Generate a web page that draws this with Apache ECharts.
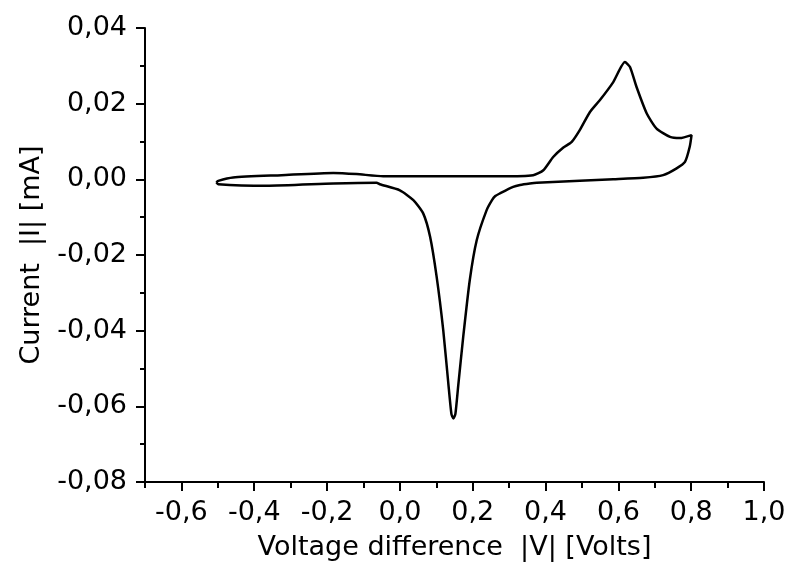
<!DOCTYPE html>
<html>
<head>
<meta charset="utf-8">
<script src="https://cdn.jsdelivr.net/npm/echarts@6/dist/echarts.min.js"></script>
<style>
  html, body { margin: 0; padding: 0; background: #fff; }
  #chart { width: 791px; height: 581px; }
</style>
</head>
<body>
<div id="chart"></div>
<script>
// Cyclic voltammogram (volts, mA), traced as one closed loop
const voltage = [
  -0.504, -0.499, -0.458, -0.325, -0.183, -0.119, -0.046, 0.138, 0.280, 0.366,
  0.394, 0.421, 0.449, 0.472, 0.494, 0.522, 0.549, 0.586, 0.618, 0.632,
  0.650, 0.678, 0.705, 0.742, 0.769, 0.801, 0.796, 0.783, 0.760, 0.723,
  0.668, 0.586, 0.494, 0.376, 0.357, 0.330, 0.311, 0.275, 0.262, 0.253, 0.238,
  0.211, 0.192, 0.174, 0.160, 0.1525, 0.147, 0.1415, 0.133, 0.119, 0.101, 0.083, 0.064,
  0.037, 0.000, -0.055, -0.064, -0.183, -0.366, -0.499, -0.504
];
const current = [
  -0.0008, -0.0004, 0.0005, 0.0011, 0.0017, 0.0014, 0.0008, 0.0008, 0.0008, 0.0011,
  0.0024, 0.0059, 0.0084, 0.0099, 0.0130, 0.0178, 0.0209, 0.0257, 0.0310, 0.0297,
  0.0244, 0.0174, 0.0134, 0.0112, 0.0109, 0.0117, 0.0086, 0.0046, 0.0029, 0.0011,
  0.0004, 0.0000, -0.0004, -0.0009, -0.0011, -0.0015, -0.0020, -0.0037, -0.0044, -0.0055, -0.0082,
  -0.0161, -0.0266, -0.0416, -0.0548, -0.0620, -0.0632, -0.0620, -0.0539, -0.0398, -0.0258, -0.0152, -0.0090,
  -0.0055, -0.0029, -0.0013, -0.0009, -0.0011, -0.0017, -0.0013, -0.0008
];

const xMajorTicks = [-0.6, -0.4, -0.2, 0.0, 0.2, 0.4, 0.6, 0.8, 1.0];
const xMinorTicks = [-0.7, -0.5, -0.3, -0.1, 0.1, 0.3, 0.5, 0.7, 0.9];

const FONT = '"DejaVu Sans", sans-serif';
const points = voltage.map((v, i) => [v, current[i]]);

const chart = echarts.init(document.getElementById('chart'), null, { renderer: 'canvas' });

const baseX = {
  type: 'value',
  position: 'bottom',
  min: -0.7,
  max: 1.0,
  splitLine: { show: false }
};

chart.setOption({
  animation: false,
  backgroundColor: '#fff',
  grid: { left: 145, right: 27, top: 28, bottom: 99 },
  xAxis: [
    Object.assign({}, baseX, {
      name: 'Voltage difference  |V| [Volts]',
      nameLocation: 'middle',
      nameGap: 52,
      nameTextStyle: { fontFamily: FONT, fontSize: 27, color: '#000' },
      axisLine: { onZero: false, lineStyle: { color: '#000', width: 2 } },
      axisTick: { customValues: xMajorTicks, length: 9, lineStyle: { color: '#000', width: 2 } },
      axisLabel: {
        customValues: xMajorTicks,
        margin: 17,
        fontFamily: FONT, fontSize: 27, color: '#000',
        formatter: v => v.toFixed(1).replace('-0.0', '0.0').replace('.', ',')
      }
    }),
    Object.assign({}, baseX, {
      axisLine: { show: false, onZero: false },
      axisLabel: { show: false },
      axisTick: { customValues: xMinorTicks, length: 6, lineStyle: { color: '#000', width: 2 } }
    })
  ],
  yAxis: {
    type: 'value',
    min: -0.08,
    max: 0.04,
    interval: 0.02,
    name: 'Current  |I| [mA]',
    nameLocation: 'middle',
    nameGap: 100,
    nameTextStyle: { fontFamily: FONT, fontSize: 27, color: '#000' },
    splitLine: { show: false },
    axisLine: { show: true, onZero: false, lineStyle: { color: '#000', width: 2 } },
    axisTick: { show: true, length: 9, lineStyle: { color: '#000', width: 2 } },
    minorTick: { show: true, splitNumber: 2, length: 5, lineStyle: { color: '#000', width: 2 } },
    axisLabel: {
      margin: 18,
      fontFamily: FONT, fontSize: 27, color: '#000',
      formatter: v => v.toFixed(2).replace('.', ',')
    }
  },
  series: [{
    type: 'line',
    data: points,
    xAxisIndex: 0,
    showSymbol: false,
    smooth: 0.2,
    lineStyle: { color: '#000', width: 2.5 }
  }]
});
</script>
</body>
</html>
